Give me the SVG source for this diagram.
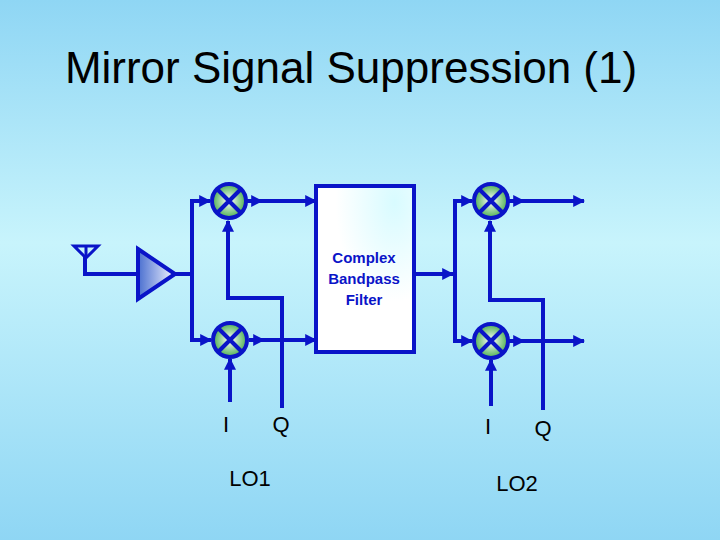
<svg xmlns="http://www.w3.org/2000/svg" width="720" height="540" viewBox="0 0 720 540">
<defs>
<linearGradient id="bg" x1="0" y1="0" x2="0" y2="1">
<stop offset="0" stop-color="#8fd6f4"/><stop offset="0.45" stop-color="#c8f4fc"/><stop offset="1" stop-color="#8fd6f4"/>
</linearGradient>
<radialGradient id="mx" cx="0.5" cy="0.5" r="0.5">
<stop offset="0" stop-color="#ffffff"/><stop offset="1" stop-color="#4caf50"/>
</radialGradient>
<linearGradient id="amp" x1="0" y1="0" x2="1" y2="0">
<stop offset="0" stop-color="#4a6fd0"/><stop offset="1" stop-color="#f4f6ff"/>
</linearGradient>
<radialGradient id="box" cx="0.8" cy="0.1" r="1">
<stop offset="0" stop-color="#d8fbff"/><stop offset="0.6" stop-color="#ffffff"/>
</radialGradient>
<marker id="ar" viewBox="0 0 10 10" refX="9" refY="5" markerWidth="3" markerHeight="3" orient="auto"><path d="M0 0L10 5L0 10z" fill="#0a14c8"/></marker>
<g id="mixsym"><circle r="17" fill="url(#mx)" stroke="#0a14c8" stroke-width="4"/><path d="M-11-11L11 11M-11 11L11-11" stroke="#0a14c8" stroke-width="4"/></g>
</defs>
<style>.w{fill:none;stroke:#0a14c8;stroke-width:4}.t{font-family:"Liberation Sans",Arial,sans-serif;fill:#000}</style>
<rect width="720" height="540" fill="url(#bg)"/>
<text class="t" x="351" y="83" font-size="44" text-anchor="middle">Mirror Signal Suppression (1)</text>
<g id="connectors" class="w">
<path d="M85 257V274H138"/>
<path d="M175 274H192"/>
<path d="M192 274V201H210" marker-end="url(#ar)"/>
<path d="M192 274V340H211" marker-end="url(#ar)"/>
<path d="M247 201H262" marker-end="url(#ar)"/>
<path d="M260 201H316" marker-end="url(#ar)"/>
<path d="M249 340H264" marker-end="url(#ar)"/>
<path d="M262 340H316" marker-end="url(#ar)"/>
<path d="M282 408V298H228V221" marker-end="url(#ar)"/>
<path d="M230 402V359" marker-end="url(#ar)"/>
<path d="M414 274H453" marker-end="url(#ar)"/>
<path d="M455 274V201H472" marker-end="url(#ar)"/>
<path d="M455 274V341H472" marker-end="url(#ar)"/>
<path d="M509 201H524" marker-end="url(#ar)"/>
<path d="M522 201H584" marker-end="url(#ar)"/>
<path d="M509 341H524" marker-end="url(#ar)"/>
<path d="M522 341H584" marker-end="url(#ar)"/>
<path d="M543 410V300H490V221" marker-end="url(#ar)"/>
<path d="M491 406V360" marker-end="url(#ar)"/>
</g>
<g id="antenna"><path d="M74 246H98L86 258Z" fill="none" stroke="#0a14c8" stroke-width="3"/><path d="M86 246V258" stroke="#0a14c8" stroke-width="3"/></g>
<g id="amplifier"><path d="M138 249L175 274L138 299Z" fill="url(#amp)" stroke="#0a14c8" stroke-width="4"/></g>
<g id="mixer1"><use href="#mixsym" x="229" y="201"/></g>
<g id="mixer2"><use href="#mixsym" x="230" y="340"/></g>
<g id="mixer3"><use href="#mixsym" x="491" y="201"/></g>
<g id="mixer4"><use href="#mixsym" x="491" y="341"/></g>
<g id="filter"><rect x="316" y="186" width="98" height="166" fill="url(#box)" stroke="#0a14c8" stroke-width="4"/>
<text class="t" font-size="15" font-weight="bold" text-anchor="middle" x="364"><tspan x="364" y="263" fill="#0a14c8">Complex</tspan><tspan x="364" y="284" fill="#0a14c8">Bandpass</tspan><tspan x="364" y="305" fill="#0a14c8">Filter</tspan></text></g>
<g id="labels">
<text class="t" x="226" y="432" text-anchor="middle" font-size="22">I</text>
<text class="t" x="281" y="432" text-anchor="middle" font-size="22">Q</text>
<text class="t" x="250" y="486" text-anchor="middle" font-size="22">LO1</text>
<text class="t" x="488" y="434" text-anchor="middle" font-size="22">I</text>
<text class="t" x="543" y="436" text-anchor="middle" font-size="22">Q</text>
<text class="t" x="517" y="491" text-anchor="middle" font-size="22">LO2</text>
</g>
</svg>
